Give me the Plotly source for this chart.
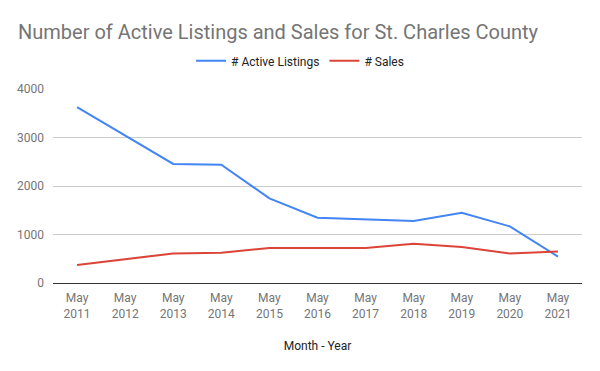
import plotly.graph_objects as go

categories = ["May<br>2011", "May<br>2012", "May<br>2013", "May<br>2014", "May<br>2015",
              "May<br>2016", "May<br>2017", "May<br>2018", "May<br>2019", "May<br>2020", "May<br>2021"]
active_listings = [3625, 3040, 2455, 2440, 1745, 1345, 1312, 1280, 1450, 1167, 545]
sales = [371, 495, 610, 625, 722, 722, 720, 810, 742, 610, 652]
y_ticks = [0, 1000, 2000, 3000, 4000]

fig = go.Figure()
fig.add_trace(go.Scatter(x=categories, y=active_listings, mode="lines", name="# Active Listings",
                         line=dict(color="#4285F4", width=2)))
fig.add_trace(go.Scatter(x=categories, y=sales, mode="lines", name="# Sales",
                         line=dict(color="#DB4437", width=2)))

fig.update_layout(
    width=600, height=371,
    margin=dict(l=53, r=18, t=89, b=88),
    paper_bgcolor="white", plot_bgcolor="white",
    font=dict(family="Roboto", size=12, color="#757575"),
    title=dict(text="Number of Active Listings and Sales for St. Charles County",
               x=0.03, xanchor="left", y=0.915, yanchor="middle",
               font=dict(family="Roboto", size=20, color="#757575")),
    legend=dict(orientation="h", x=0.467, xanchor="center",
                y=1.145, yanchor="middle",
                font=dict(size=12, color="#222222"), itemwidth=30),
    showlegend=True,
)
fig.update_xaxes(type="category", range=[-0.5, 10.5], showgrid=False, showline=False,
                 ticks="", ticklabelstandoff=6, tickfont=dict(size=12, color="#757575"),
                 title=dict(text="Month - Year", font=dict(size=12, color="#222222"), standoff=22),
                 zeroline=False)
fig.update_yaxes(range=[0, 4000], tickvals=y_ticks, showgrid=True, gridcolor="#cccccc",
                 gridwidth=1, zeroline=True, zerolinecolor="#333333", zerolinewidth=1,
                 ticks="", ticklabelstandoff=8, tickfont=dict(size=12, color="#757575"))

fig.write_html("out.html", config={"displayModeBar": False},
               post_script="document.body.style.margin='0';")
